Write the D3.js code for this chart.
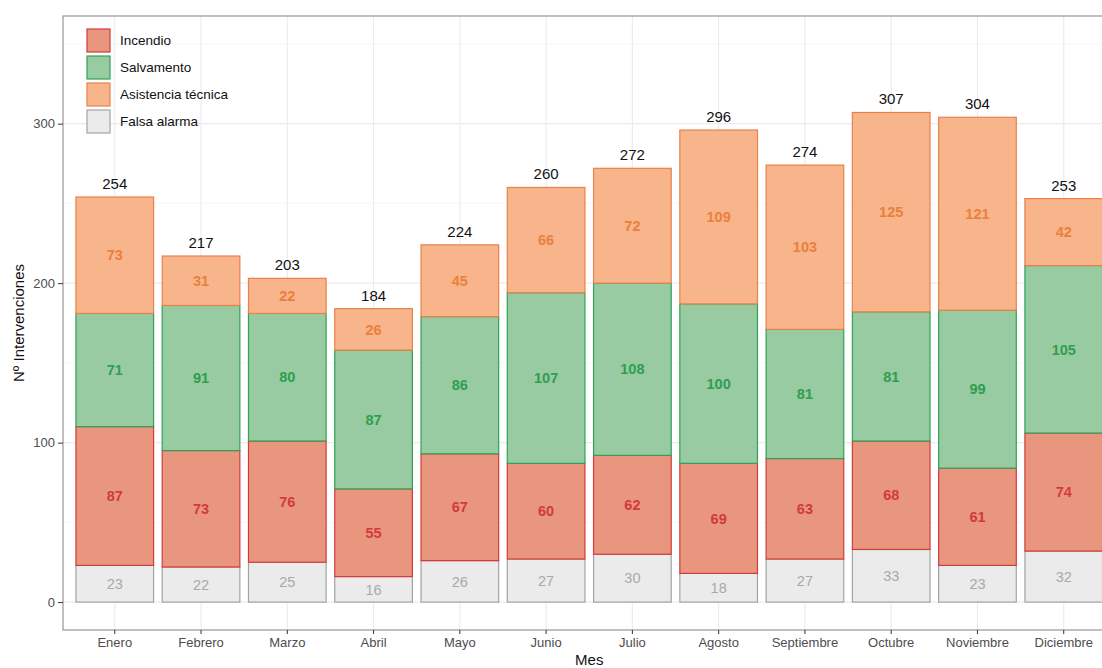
<!DOCTYPE html>
<html><head><meta charset="utf-8">
<script src="https://cdn.jsdelivr.net/npm/d3@7/dist/d3.min.js"></script>
<style>body{margin:0;background:#fff;overflow:hidden}svg{display:block}text{font-family:"Liberation Sans",Arial,sans-serif}</style>
</head><body>
<svg id="c" width="1102" height="668"></svg>
<script>
const months = ["Enero","Febrero","Marzo","Abril","Mayo","Junio","Julio","Agosto","Septiembre","Octubre","Noviembre","Diciembre"];
const seriesNames = ["Falsa alarma","Incendio","Salvamento","Asistencia técnica"];
const falsaAlarma = [23,22,25,16,26,27,30,18,27,33,23,32];
const incendio = [87,73,76,55,67,60,62,69,63,68,61,74];
const salvamento = [71,91,80,87,86,107,108,100,81,81,99,105];
const asistencia = [73,31,22,26,45,66,72,109,103,125,121,42];
const yTicks = [0,100,200,300];
const yMinor = [50,150,250,350];
const legendOrder = ["Incendio","Salvamento","Asistencia técnica","Falsa alarma"];

const style = {
  "Falsa alarma": {fill:"#ebebeb", stroke:"#a3a3a3", text:"#a9a9a9"},
  "Incendio": {fill:"#e9967f", stroke:"#d13b3b", text:"#d13b3b"},
  "Salvamento": {fill:"#98cba2", stroke:"#30a256", text:"#2f9e50"},
  "Asistencia técnica": {fill:"#f8b48a", stroke:"#e8824b", text:"#e8813e"}
};
const values = {"Falsa alarma":falsaAlarma,"Incendio":incendio,"Salvamento":salvamento,"Asistencia técnica":asistencia};

const rows = months.map((m,i)=>{const r={mes:m}; seriesNames.forEach(s=>r[s]=values[s][i]); return r;});
const stack = d3.stack().keys(seriesNames)(rows);
const totals = rows.map(r=>d3.sum(seriesNames,s=>r[s]));

const svg = d3.select("#c");
const L=63, R=1115.5, T=16, B=630;
const x = d3.scaleBand().domain(months).range([L,R]).paddingInner(0.1).paddingOuter(0.15);
const y = d3.scaleLinear().domain([-17.5,367.5]).range([B,T]);

// grid
const g = svg.append("g");
g.selectAll(".mn").data(yMinor).join("line").attr("x1",L).attr("x2",R).attr("y1",d=>y(d)).attr("y2",d=>y(d)).attr("stroke","#f2f2f2").attr("stroke-width",0.6);
g.selectAll(".mj").data(yTicks).join("line").attr("x1",L).attr("x2",R).attr("y1",d=>y(d)).attr("y2",d=>y(d)).attr("stroke","#ebebeb").attr("stroke-width",1.1);
g.selectAll(".vx").data(months).join("line").attr("y1",T).attr("y2",B).attr("x1",d=>x(d)+x.bandwidth()/2).attr("x2",d=>x(d)+x.bandwidth()/2).attr("stroke","#ebebeb").attr("stroke-width",1.1);

// bars
stack.forEach(layer=>{
  const st = style[layer.key];
  svg.append("g").selectAll("rect").data(layer).join("rect")
    .attr("x",(d,i)=>x(months[i])).attr("width",x.bandwidth())
    .attr("y",d=>y(d[1])).attr("height",d=>y(d[0])-y(d[1]))
    .attr("fill",st.fill).attr("stroke",st.stroke).attr("stroke-width",1.2);
});
stack.forEach(layer=>{
  const st = style[layer.key];
  svg.append("g").selectAll("text").data(layer).join("text")
    .attr("x",(d,i)=>x(months[i])+x.bandwidth()/2).attr("y",d=>y((d[0]+d[1])/2))
    .attr("dy","0.36em").attr("text-anchor","middle")
    .attr("font-size",14.5).attr("font-weight",layer.key==="Falsa alarma"?"normal":"bold")
    .attr("fill",st.text).text((d,i)=>values[layer.key][i]);
});
svg.append("g").selectAll("text").data(totals).join("text")
  .attr("x",(d,i)=>x(months[i])+x.bandwidth()/2).attr("y",d=>y(d)-8)
  .attr("text-anchor","middle").attr("font-size",15).attr("fill","#111").text(d=>d);

// panel border
svg.append("rect").attr("x",L).attr("y",T).attr("width",R-L).attr("height",B-T).attr("fill","none").attr("stroke","#8c8c8c").attr("stroke-width",1.1);

// axes
const ya = svg.append("g").attr("transform",`translate(${L},0)`).call(d3.axisLeft(y).tickValues(yTicks).tickSize(5).tickPadding(3));
const xa = svg.append("g").attr("transform",`translate(0,${B})`).call(d3.axisBottom(x).tickSize(4).tickPadding(4));
[ya,xa].forEach(a=>{a.select(".domain").remove(); a.selectAll(".tick line").attr("stroke","#333"); a.selectAll("text").attr("font-size",13).attr("fill","#4d4d4d").attr("font-family","Liberation Sans, Arial, sans-serif");});

svg.append("text").attr("x",(L+R)/2).attr("y",665).attr("text-anchor","middle").attr("font-size",15).attr("fill","#111").text("Mes");
svg.append("text").attr("transform",`translate(24,${(T+B)/2}) rotate(-90)`).attr("text-anchor","middle").attr("font-size",15).attr("fill","#111").text("Nº Intervenciones");

// legend
const lg = svg.append("g").attr("transform","translate(87,29)");
legendOrder.forEach((s,i)=>{
  const st=style[s];
  lg.append("rect").attr("x",0).attr("y",i*27).attr("width",23).attr("height",23).attr("fill",st.fill).attr("stroke",st.stroke).attr("stroke-width",1.2);
  lg.append("text").attr("x",33).attr("y",i*27+11.5).attr("dy","0.36em").attr("font-size",13.5).attr("fill","#111").text(s);
});
</script>
</body></html>
